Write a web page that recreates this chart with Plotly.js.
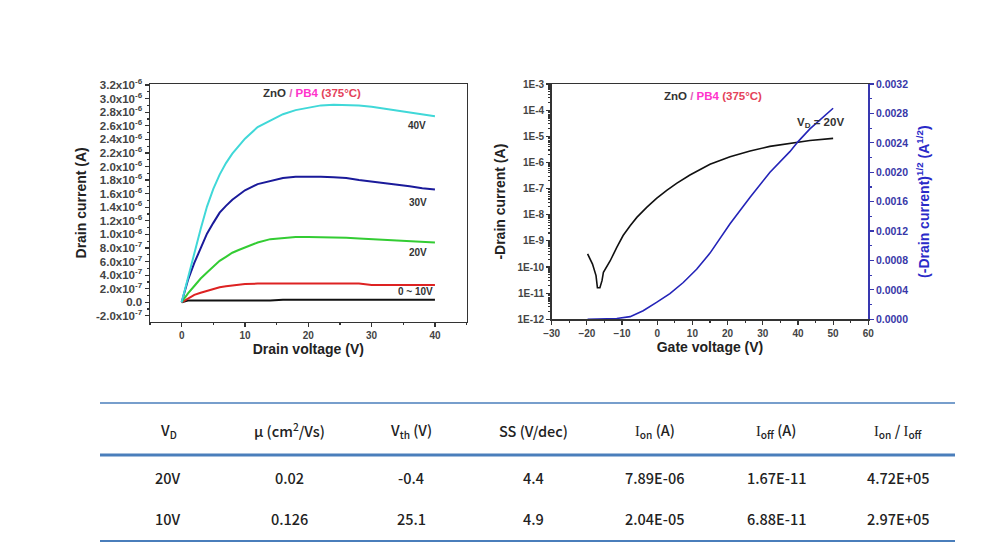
<!DOCTYPE html>
<html>
<head>
<meta charset="utf-8">
<script src="https://cdn.plot.ly/plotly-3.0.1.min.js"></script>
<style>html,body{margin:0;padding:0;background:#fff;}#chart{width:994px;height:552px;}</style>
</head>
<body>
<div id="chart"></div>
<script>
// ---------- Output characteristics (left) ----------
const drainVoltage = [0,1,2,3,4,5,6,7,8,9,10,12,14,16,18,20,22,24,26,28,30,32,34,36,38,40];
const id_Vg0  = [0,0.025e-6,0.025e-6,0.025e-6,0.025e-6,0.025e-6,0.025e-6,0.025e-6,0.025e-6,0.025e-6,0.025e-6,0.025e-6,0.026e-6,0.038e-6,0.038e-6,0.038e-6,0.038e-6,0.038e-6,0.038e-6,0.038e-6,0.038e-6,0.038e-6,0.038e-6,0.038e-6,0.038e-6,0.038e-6];
const id_Vg10 = [0,0.06e-6,0.11e-6,0.14e-6,0.17e-6,0.20e-6,0.22e-6,0.235e-6,0.245e-6,0.255e-6,0.27e-6,0.275e-6,0.275e-6,0.275e-6,0.275e-6,0.275e-6,0.275e-6,0.275e-6,0.275e-6,0.275e-6,0.255e-6,0.255e-6,0.255e-6,0.255e-6,0.255e-6,0.255e-6];
const id_Vg20 = [0,0.13e-6,0.24e-6,0.35e-6,0.44e-6,0.53e-6,0.61e-6,0.67e-6,0.73e-6,0.77e-6,0.81e-6,0.88e-6,0.93e-6,0.95e-6,0.96e-6,0.96e-6,0.96e-6,0.96e-6,0.95e-6,0.94e-6,0.93e-6,0.92e-6,0.91e-6,0.90e-6,0.89e-6,0.88e-6];
const id_Vg30 = [0,0.33e-6,0.58e-6,0.80e-6,1.01e-6,1.17e-6,1.32e-6,1.42e-6,1.51e-6,1.58e-6,1.65e-6,1.74e-6,1.79e-6,1.83e-6,1.85e-6,1.855e-6,1.85e-6,1.84e-6,1.83e-6,1.80e-6,1.78e-6,1.75e-6,1.73e-6,1.71e-6,1.68e-6,1.66e-6];
const id_Vg40 = [0,0.37e-6,0.73e-6,1.08e-6,1.41e-6,1.67e-6,1.88e-6,2.05e-6,2.19e-6,2.30e-6,2.41e-6,2.58e-6,2.68e-6,2.77e-6,2.83e-6,2.87e-6,2.90e-6,2.91e-6,2.91e-6,2.90e-6,2.88e-6,2.85e-6,2.82e-6,2.79e-6,2.77e-6,2.74e-6];
const outLabels = ["0 ~ 10V","20V","30V","40V"];
const leftTickVals = [-0.2e-6,0,0.2e-6,0.4e-6,0.6e-6,0.8e-6,1.0e-6,1.2e-6,1.4e-6,1.6e-6,1.8e-6,2.0e-6,2.2e-6,2.4e-6,2.6e-6,2.8e-6,3.0e-6,3.2e-6];
const leftTickText = ["-2.0x10<sup>-7</sup>","0.0","2.0x10<sup>-7</sup>","4.0x10<sup>-7</sup>","6.0x10<sup>-7</sup>","8.0x10<sup>-7</sup>",
  "1.0x10<sup>-6</sup>","1.2x10<sup>-6</sup>","1.4x10<sup>-6</sup>","1.6x10<sup>-6</sup>","1.8x10<sup>-6</sup>","2.0x10<sup>-6</sup>",
  "2.2x10<sup>-6</sup>","2.4x10<sup>-6</sup>","2.6x10<sup>-6</sup>","2.8x10<sup>-6</sup>","3.0x10<sup>-6</sup>","3.2x10<sup>-6</sup>"];

// ---------- Transfer characteristics (right) ----------
const gateV_log = [-19.8,-18.4,-17.4,-17.0,-16.3,-15.7,-15.3,-13.4,-11.5,-9.7,-7.7,-5.8,-3.0,-0.2,2.7,5.5,9.3,13.1,15.0,20.7,26.4,32.0,37.7,43.4,50.0];
const idLog = [3.2e-10,1.3e-10,4.7e-11,1.6e-11,1.6e-11,3.0e-11,6.3e-11,1.7e-10,5.6e-10,1.6e-9,3.8e-9,7.9e-9,1.9e-8,4.2e-8,8.5e-8,1.58e-7,3.3e-7,6.3e-7,8.5e-7,1.66e-6,2.75e-6,4.1e-6,5.5e-6,6.9e-6,8.3e-6];
const gateV_sqrt = [-19.8,-15,-11.5,-7.7,-4.0,-0.2,3.6,7.4,11.2,15.0,20.7,26.4,32.05,37.7,40.1,43.4,50.0];
const sqrtId = [0,0,0.00001,0.000036,0.000117,0.00023,0.00035,0.0005,0.00068,0.0009,0.0013,0.00166,0.00200,0.00228,0.00242,0.00259,0.00287];
const logTickVals = [1e-12,1e-11,1e-10,1e-9,1e-8,1e-7,1e-6,1e-5,1e-4,1e-3];
const logTickText = ["1E-12","1E-11","1E-10","1E-9","1E-8","1E-7","1E-6","1E-5","1E-4","1E-3"];

// ---------- Table ----------
const tableHeader = ["V<sub>D</sub>","μ (cm<sup>2</sup>/Vs)","V<sub>th</sub> (V)","SS (V/dec)",
  "<span style='font-family:Liberation Serif'>I</span><sub>on</sub> (A)",
  "<span style='font-family:Liberation Serif'>I</span><sub>off</sub> (A)",
  "<span style='font-family:Liberation Serif'>I</span><sub>on</sub> / <span style='font-family:Liberation Serif'>I</span><sub>off</sub>"];
const tableRow1 = ["20V","0.02","-0.4","4.4","7.89E-06","1.67E-11","4.72E+05"];
const tableRow2 = ["10V","0.126","25.1","4.9","2.04E-05","6.88E-11","2.97E+05"];

const W = 994, H = 552;
const px = x => x / W;
const py = y => 1 - y / H;

const F = 'Liberation Sans, Arial, sans-serif';
const tickFont = {family: F, size: 10, color: '#444', weight: 'bold'};
const titleFont = {family: F, size: 14, color: '#222', weight: 'bold'};

const traces = [
  {x: drainVoltage, y: id_Vg0,  mode: 'lines', line: {color: '#111111', width: 2}, xaxis: 'x', yaxis: 'y'},
  {x: drainVoltage, y: id_Vg10, mode: 'lines', line: {color: '#dd2222', width: 2}, xaxis: 'x', yaxis: 'y'},
  {x: drainVoltage, y: id_Vg20, mode: 'lines', line: {color: '#33cc33', width: 2}, xaxis: 'x', yaxis: 'y'},
  {x: drainVoltage, y: id_Vg30, mode: 'lines', line: {color: '#1a1a9a', width: 2}, xaxis: 'x', yaxis: 'y'},
  {x: drainVoltage, y: id_Vg40, mode: 'lines', line: {color: '#40d8d8', width: 2}, xaxis: 'x', yaxis: 'y'},
  {x: gateV_log, y: idLog, mode: 'lines', line: {color: '#111111', width: 1.6}, xaxis: 'x2', yaxis: 'y2'},
  {x: gateV_sqrt, y: sqrtId, mode: 'lines', line: {color: '#2424b8', width: 1.6}, xaxis: 'x2', yaxis: 'y3'}
];

const annotations = [];
function mixedTitle(cx, cy) {
  annotations.push({xref: 'paper', yref: 'paper', x: px(cx), y: py(cy), showarrow: false,
    xanchor: 'center', yanchor: 'middle',
    text: "<span style='color:#333'>ZnO</span><span style='color:#e060b8'> / </span><span style='color:#ff33cc'>PB4</span><span style='color:#e4435a'> (375°C)</span>",
    font: {family: F, size: 11.5, weight: 'bold'}});
}
mixedTitle(312, 93);
mixedTitle(713, 96);
const outLabelPos = [[415, 291], [418, 252], [418, 202], [417, 125]];
outLabels.forEach((t, i) => annotations.push({xref: 'paper', yref: 'paper', x: px(outLabelPos[i][0]), y: py(outLabelPos[i][1]),
  text: t, showarrow: false, xanchor: 'center', yanchor: 'middle', font: {family: F, size: 10, color: '#333', weight: 'bold'}}));
annotations.push({xref: 'paper', yref: 'paper', x: px(820), y: py(123), text: "V<sub>D</sub> = 20V", showarrow: false,
  xanchor: 'center', yanchor: 'middle', font: {family: F, size: 11.5, color: '#333', weight: 'bold'}});

// table text
const colX = i => 168 + i * 121.7;
const TF = 'Noto Sans CJK KR, Noto Sans, sans-serif';
[[tableHeader, 430], [tableRow1, 477], [tableRow2, 518]].forEach(([row, yy]) => {
  row.forEach((t, i) => annotations.push({xref: 'paper', yref: 'paper', x: px(colX(i)), y: py(yy), text: t,
    showarrow: false, xanchor: 'center', yanchor: 'middle', font: {family: TF, size: 14.5, color: '#222', weight: 500}}));
});

const shapes = [
  {type: 'line', xref: 'paper', yref: 'paper', x0: px(100), x1: px(955), y0: py(403), y1: py(403), line: {color: '#4a7ebb', width: 1.5}},
  {type: 'line', xref: 'paper', yref: 'paper', x0: px(100), x1: px(955), y0: py(455), y1: py(455), line: {color: '#4a7ebb', width: 3}},
  {type: 'line', xref: 'paper', yref: 'paper', x0: px(100), x1: px(955), y0: py(541), y1: py(541), line: {color: '#4a7ebb', width: 2}}
];

const axisCommon = {showgrid: false, zeroline: false, showline: true, linecolor: '#333', linewidth: 1.5,
  ticks: 'outside', ticklen: 4, tickwidth: 1.2, tickcolor: '#333', tickfont: tickFont};

const layout = {
  width: W, height: H, margin: {l: 0, r: 0, t: 0, b: 0}, paper_bgcolor: '#fff', plot_bgcolor: '#fff', showlegend: false,
  xaxis: Object.assign({}, axisCommon, {domain: [px(150), px(466.6)], range: [-5, 45], dtick: 10, tick0: 0, mirror: true, anchor: 'y',
    minor: {dtick: 5, tick0: 0, ticklen: 2, ticks: 'outside', tickcolor: '#333'},
    title: {text: 'Drain voltage (V)', font: titleFont, standoff: 1}}),
  yaxis: Object.assign({}, axisCommon, {domain: [py(321.7), py(84)], range: [-0.286e-6, 3.215e-6], tickmode: 'array',
    tickvals: leftTickVals, ticktext: leftTickText, mirror: true, anchor: 'x',
    tickfont: {family: F, size: 11.5, color: '#444', weight: 'bold'},
    minor: {dtick: 0.1e-6, tick0: 0, ticklen: 2, ticks: 'outside', tickcolor: '#333'},
    title: {text: 'Drain current (A)', font: titleFont, standoff: 6}}),
  xaxis2: Object.assign({}, axisCommon, {domain: [px(551.7), px(868.3)], range: [-30, 60], dtick: 10, tick0: 0, mirror: true, anchor: 'y2',
    minor: {dtick: 5, tick0: 0, ticklen: 2, ticks: 'outside', tickcolor: '#333'},
    title: {text: 'Gate voltage (V)', font: titleFont, standoff: 1}}),
  yaxis2: Object.assign({}, axisCommon, {domain: [py(319.3), py(84)], type: 'log', range: [-12, -3], tickmode: 'array',
    tickvals: logTickVals, ticktext: logTickText, anchor: 'x2',
    minor: {dtick: 'D1', ticklen: 2, ticks: 'outside', tickcolor: '#333'},
    title: {text: '-Drain current (A)', font: titleFont, standoff: 8}}),
  yaxis3: Object.assign({}, axisCommon, {overlaying: 'y2', side: 'right', anchor: 'x2', range: [0, 0.0032], dtick: 0.0004, tick0: 0,
    tickformat: '.4f', linecolor: '#3838b0', tickcolor: '#3838b0', tickfont: {family: F, size: 10.5, color: '#3838a8', weight: 'bold'},
    minor: {dtick: 0.0002, tick0: 0, ticklen: 2, ticks: 'outside', tickcolor: '#3838b0'},
    title: {text: '(-Drain current)<sup>1/2</sup> (A<sup>1/2</sup>)', font: {family: F, size: 14, color: '#2a2ac8', weight: 'bold'}, standoff: 12}}),
  annotations: annotations,
  shapes: shapes
};

Plotly.newPlot('chart', traces, layout, {staticPlot: true, displayModeBar: false});
</script>
</body>
</html>
